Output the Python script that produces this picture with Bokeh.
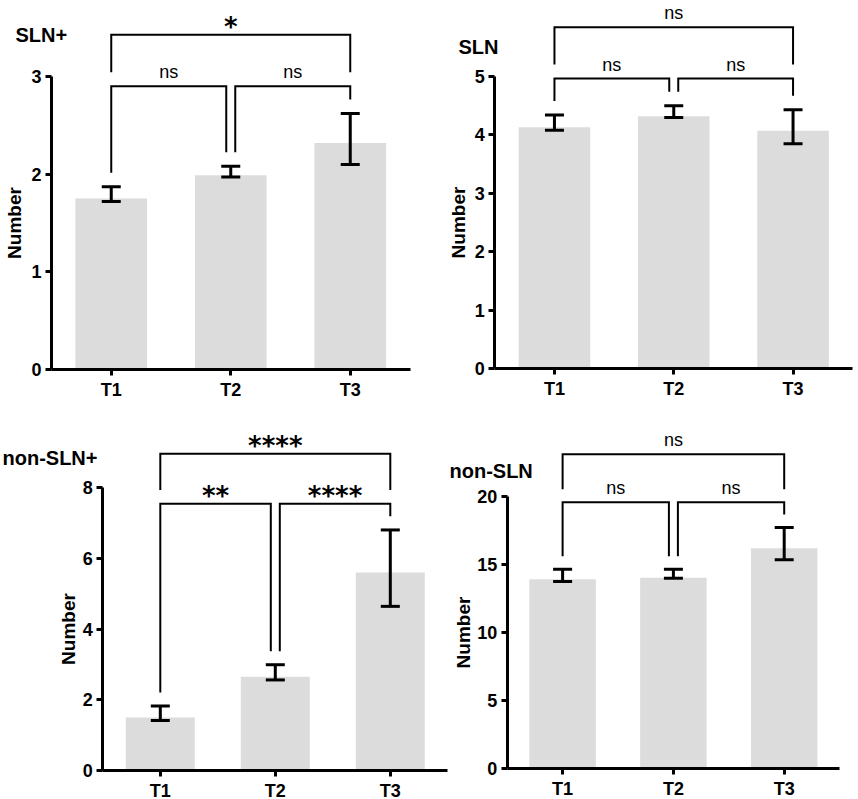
from math import pi
from bokeh.plotting import figure
from bokeh.models import (ColumnDataSource, Range1d, FixedTicker, Whisker, TeeHead)
from bokeh.layouts import column, row
from bokeh.embed import file_html
from bokeh.resources import INLINE
from bokeh.core.properties import value

# ---------------- data ----------------
categories = ["T1", "T2", "T3"]

sln_pos_mean = [1.75, 1.99, 2.32]
sln_pos_lower = [1.72, 1.97, 2.10]
sln_pos_upper = [1.87, 2.08, 2.62]
sln_pos_ticks = [0, 1, 2, 3]
sln_pos_tests = [("T1", "T2", "ns"), ("T2", "T3", "ns"), ("T1", "T3", "*")]

sln_mean = [4.13, 4.32, 4.07]
sln_lower = [4.08, 4.30, 3.85]
sln_upper = [4.34, 4.50, 4.43]
sln_ticks = [0, 1, 2, 3, 4, 5]
sln_tests = [("T1", "T2", "ns"), ("T2", "T3", "ns"), ("T1", "T3", "ns")]

non_sln_pos_mean = [1.50, 2.65, 5.60]
non_sln_pos_lower = [1.41, 2.56, 4.64]
non_sln_pos_upper = [1.82, 2.99, 6.80]
non_sln_pos_ticks = [0, 2, 4, 6, 8]
non_sln_pos_tests = [("T1", "T2", "**"), ("T2", "T3", "****"), ("T1", "T3", "****")]

non_sln_mean = [13.92, 14.02, 16.20]
non_sln_lower = [13.75, 13.99, 15.35]
non_sln_upper = [14.65, 14.65, 17.72]
non_sln_ticks = [0, 5, 10, 15, 20]
non_sln_tests = [("T1", "T2", "ns"), ("T2", "T3", "ns"), ("T1", "T3", "ns")]

# ---------------- style ----------------
FONT = "Liberation Sans"
STAR_FONT = "DejaVu Sans"
BAR = "#dcdcdc"
GAP, RISE, STEP = 0.048, 0.093, 0.176   # bracket spacing, fraction of axis height


def panel(title, mean, lower, upper, ticks, tests, w, h, bb, axis_x, step_px,
          axis_px, title_px, title_py, label_px):
    """axis_x: pixel of the y axis inside the figure; step_px: pixels per category;
    axis_px: pixel length of the y axis; bb: pixels below the x axis."""
    top = ticks[-1]
    per_px = top / axis_px
    pos = [i + 1 for i in range(len(categories))]
    x0 = 0.5 - axis_x / step_px
    x1 = 0.5 + (w - axis_x) / step_px

    def xd(px):
        return 0.5 + (px - axis_x) / step_px

    p = figure(x_range=Range1d(x0, x1),
               y_range=Range1d(-bb * per_px, (h - bb) * per_px),
               width=w, height=h, min_border_left=0, min_border_right=0,
               min_border_top=0, min_border_bottom=0,
               output_backend="svg", toolbar_location=None)
    p.outline_line_color = None
    p.xgrid.visible = False
    p.ygrid.visible = False
    p.background_fill_color = "white"
    p.border_fill_color = "white"

    src = ColumnDataSource(dict(x=pos, mean=mean, lower=lower, upper=upper))
    p.vbar(x="x", top="mean", bottom=0, width=0.6, source=src,
           fill_color=BAR, line_color=None)
    wk = Whisker(base="x", lower="lower", upper="upper", source=src,
                 dimension="height", line_color="black", line_width=3,
                 upper_head=TeeHead(size=19, line_color="black", line_width=3),
                 lower_head=TeeHead(size=19, line_color="black", line_width=3),
                 level="annotation")
    p.add_layout(wk)

    # significance brackets
    idx = {c: i for i, c in enumerate(categories)}
    d = 4.5 / step_px
    level1 = max(upper) + RISE * top
    level2 = level1 + STEP * top
    adj = [t for t in tests if idx[t[1]] - idx[t[0]] == 1]
    xs, ys = [], []
    nx, ny, nt = [], [], []
    sx, sy, st = [], [], []
    for a, b, lab in tests:
        i, j = idx[a], idx[b]
        if j - i == 1:
            lev = level1
            oa = d if any(t[1] == a for t in adj) else 0.0
            ob = -d if any(t[0] == b for t in adj) else 0.0
            ya = upper[i] + GAP * top
            yb = upper[j] + GAP * top
        else:
            lev = level2
            oa = ob = 0.0
            ya = yb = level1 + GAP * top
        xa, xb = pos[i] + oa, pos[j] + ob
        xs.append([xa, xa, xb, xb])
        ys.append([ya, lev, lev, yb])
        if lab == "ns":
            nx.append((xa + xb) / 2); ny.append(lev + 14 * per_px); nt.append(lab)
        else:
            sx.append((xa + xb) / 2); sy.append(lev + 8 * per_px); st.append(lab)
    p.multi_line(xs="xs", ys="ys", source=ColumnDataSource(dict(xs=xs, ys=ys)),
                 line_color="black", line_width=2, line_join="miter")
    if nt:
        p.text(x="x", y="y", text="t", source=ColumnDataSource(dict(x=nx, y=ny, t=nt)),
               text_align="center", text_baseline="alphabetic",
               text_font=value(FONT), text_font_size="18px", text_color="black")
    if st:
        p.text(x="x", y="y", text="t", source=ColumnDataSource(dict(x=sx, y=sy, t=st)),
               text_align="center", text_baseline="alphabetic",
               text_font=value(STAR_FONT), text_font_style="bold",
               text_font_size="26px", text_color="black")

    # panel title and y label
    p.text(x=[xd(title_px)], y=[title_py * per_px], text=[title],
           text_align="left", text_baseline="middle", text_font=value(FONT),
           text_font_style="bold", text_font_size="20px", text_color="black")
    p.text(x=[xd(label_px)], y=[top / 2], text=["Number"], angle=pi / 2,
           text_align="center", text_baseline="middle", text_font=value(FONT),
           text_font_style="bold", text_font_size="19px", text_color="black")

    # axes (pinned at the data origin of the category axis)
    p.xaxis.ticker = FixedTicker(ticks=pos, minor_ticks=[])
    p.xaxis.major_label_overrides = {k: c for k, c in zip(pos, categories)}
    p.xaxis.bounds = (0.5, len(categories) + 0.5)
    p.xaxis.fixed_location = 0
    p.yaxis.ticker = FixedTicker(ticks=ticks, minor_ticks=[])
    p.yaxis.bounds = (0, top)
    p.yaxis.fixed_location = 0.5
    for ax in (p.xaxis[0], p.yaxis[0]):
        ax.axis_line_width = 3
        ax.axis_line_color = "black"
        ax.major_tick_line_width = 3
        ax.major_tick_line_color = "black"
        ax.minor_tick_line_color = None
        ax.major_tick_in = 0
        ax.major_tick_out = 6
        ax.major_label_standoff = 4
        ax.major_label_text_font = FONT
        ax.major_label_text_font_style = "bold"
        ax.major_label_text_font_size = "18px"
        ax.major_label_text_color = "black"
    return p


p1 = panel("SLN+", sln_pos_mean, sln_pos_lower, sln_pos_upper, sln_pos_ticks,
           sln_pos_tests, 430, 404, 35, 51, 119.5, 293, 15, 335, 13.8)
p2 = panel("SLN", sln_mean, sln_lower, sln_upper, sln_ticks,
           sln_tests, 428, 404, 36, 64.3, 119.3, 292, 28, 322, 28)
p3 = panel("non-SLN+", non_sln_pos_mean, non_sln_pos_lower, non_sln_pos_upper,
           non_sln_pos_ticks, non_sln_pos_tests, 448, 395, 29, 102.3, 115, 283, 2, 313, 68)
p4 = panel("non-SLN", non_sln_mean, non_sln_lower, non_sln_upper, non_sln_ticks,
           non_sln_tests, 410, 395, 31, 58.7, 110.8, 272, 1, 298, 15.3)

layout = column(row(p1, p2), row(p3, p4))
open("out.html", "w").write(file_html(layout, INLINE))
